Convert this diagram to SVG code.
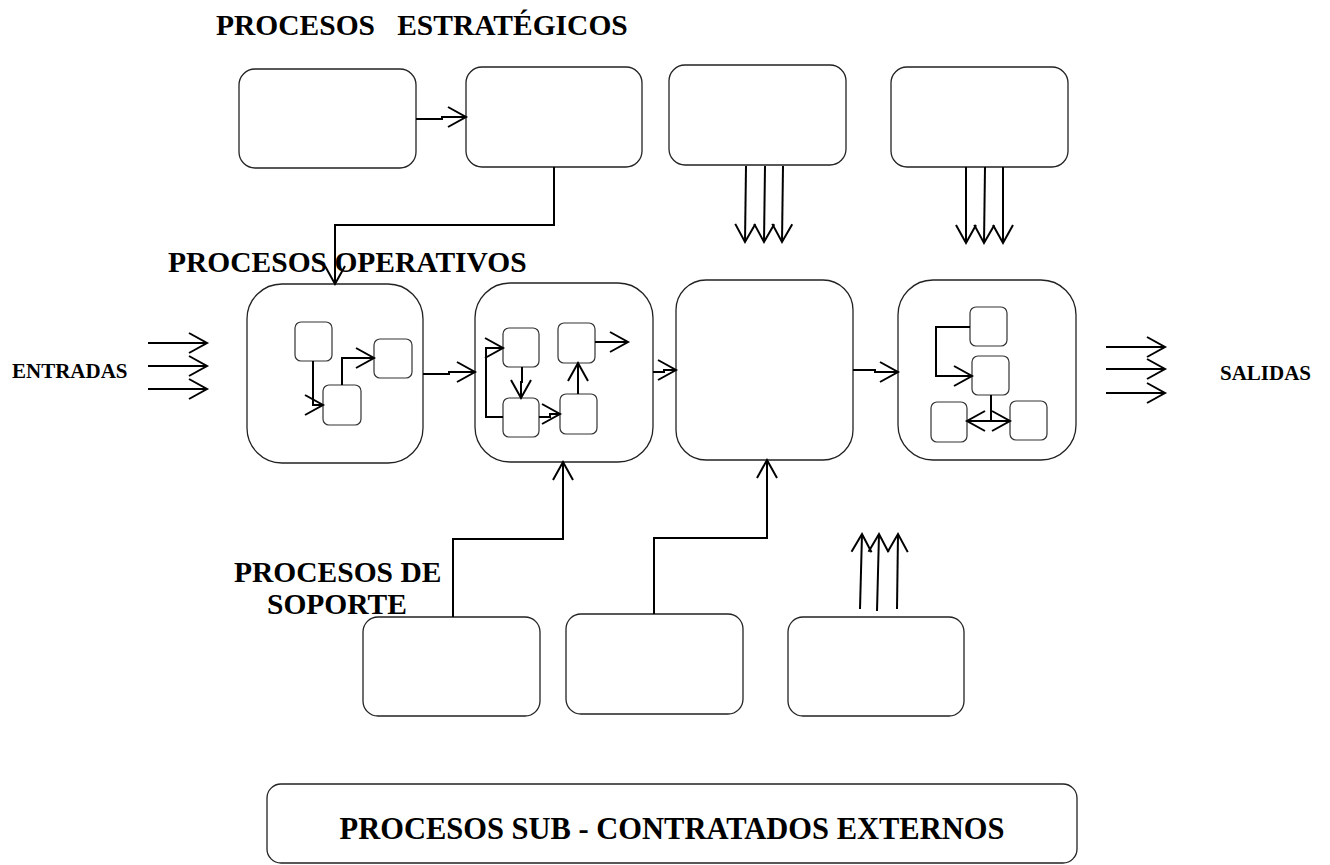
<svg xmlns="http://www.w3.org/2000/svg" width="1330" height="865" viewBox="0 0 1330 865">
<defs>
<style>
.box{fill:#fff;stroke:#222;stroke-width:1.3}
.sm{fill:#fff;stroke:#333;stroke-width:1.2}
.c{fill:none;stroke:#000;stroke-width:2}
.h{font-family:"Liberation Serif","Times New Roman",serif;font-weight:bold;font-size:29.5px;fill:#000}
.l{font-family:"Liberation Serif","Times New Roman",serif;font-weight:bold;font-size:21px;fill:#000}
</style>
<marker id="a" markerUnits="userSpaceOnUse" viewBox="-22 -12 26 24" markerWidth="26" markerHeight="24" refX="0" refY="0" orient="auto-start-reverse">
<path d="M-18,-10 L0,0 L-18,10" fill="none" stroke="#000" stroke-width="2"/>
</marker>
</defs>
<rect width="1330" height="865" fill="#fff"/>

<text class="h" x="216" y="35" xml:space="preserve">PROCESOS   ESTRATÉGICOS</text>
<text class="h" x="168" y="272">PROCESOS OPERATIVOS</text>
<text class="h" x="234" y="582">PROCESOS DE</text>
<text class="h" x="267" y="614">SOPORTE</text>
<text class="l" x="12" y="378">ENTRADAS</text>
<text class="l" x="1220" y="380">SALIDAS</text>

<g id="s1"><rect class="box" x="239" y="69" width="177" height="99" rx="16"/></g>
<g id="s2"><rect class="box" x="466" y="67" width="176" height="100" rx="16"/></g>
<g id="s3"><rect class="box" x="669" y="65" width="177" height="100" rx="16"/></g>
<g id="s4"><rect class="box" x="891" y="67" width="177" height="100" rx="16"/></g>

<g id="o1">
<rect class="box" x="247" y="284" width="176" height="179" rx="35"/>
<rect class="sm" x="295" y="322" width="37" height="39" rx="6"/>
<rect class="sm" x="374" y="339" width="38" height="39" rx="6"/>
<rect class="sm" x="323" y="385" width="38" height="40" rx="6"/>
<path class="c" d="M313,361 V405 H323" marker-end="url(#a)"/>
<path class="c" d="M342,385 V358 H374" marker-end="url(#a)"/>
</g>

<g id="o2">
<rect class="box" x="475" y="283" width="178" height="179" rx="35"/>
<rect class="sm" x="503" y="328" width="36" height="39" rx="6"/>
<rect class="sm" x="558" y="323" width="37" height="40" rx="6"/>
<rect class="sm" x="503" y="398" width="36" height="39" rx="6"/>
<rect class="sm" x="560" y="394" width="37" height="40" rx="6"/>
<path class="c" d="M503,417 H486 V348 H503" marker-end="url(#a)"/>
<path class="c" d="M522,367 V382 H521 V398" marker-end="url(#a)"/>
<path class="c" d="M539,417 H550 V414 H560" marker-end="url(#a)"/>
<path class="c" d="M578,394 V363" marker-end="url(#a)"/>
<path class="c" d="M595,342 H628" marker-end="url(#a)"/>
</g>

<g id="o3"><rect class="box" x="676" y="280" width="177" height="180" rx="30"/></g>

<g id="o4">
<rect class="box" x="898" y="280" width="178" height="180" rx="35"/>
<rect class="sm" x="970" y="307" width="37" height="39" rx="6"/>
<rect class="sm" x="972" y="356" width="37" height="39" rx="6"/>
<rect class="sm" x="931" y="402" width="36" height="40" rx="6"/>
<rect class="sm" x="1010" y="401" width="37" height="39" rx="6"/>
<path class="c" d="M970,327 H936 V376 H972" marker-end="url(#a)"/>
<path class="c" d="M991,395 V421"/>
<path class="c" d="M967,421 H1010" marker-start="url(#a)" marker-end="url(#a)"/>
</g>

<g id="sp1"><rect class="box" x="363" y="617" width="177" height="99" rx="15"/></g>
<g id="sp2"><rect class="box" x="566" y="614" width="177" height="100" rx="15"/></g>
<g id="sp3"><rect class="box" x="788" y="617" width="176" height="99" rx="15"/></g>

<g id="ext">
<rect class="box" x="267" y="784" width="810" height="79" rx="14"/>
<text class="h" x="672" y="839" text-anchor="middle" style="font-size:30.5px">PROCESOS SUB - CONTRATADOS EXTERNOS</text>
</g>

<g id="connectors">
<path class="c" d="M416,119 H442 V117 H466" marker-end="url(#a)"/>
<path class="c" d="M554,167 V225 H335 V284" marker-end="url(#a)"/>
<path class="c" d="M746,166 L745,242" marker-end="url(#a)"/>
<path class="c" d="M765,166 L764,242" marker-end="url(#a)"/>
<path class="c" d="M783,166 L782,242" marker-end="url(#a)"/>
<path class="c" d="M966,167 L966,243" marker-end="url(#a)"/>
<path class="c" d="M985,167 L984,243" marker-end="url(#a)"/>
<path class="c" d="M1003,167 L1003,243" marker-end="url(#a)"/>
<path class="c" d="M423,374 H449 V372 H475" marker-end="url(#a)"/>
<path class="c" d="M653,372 H664 V370 H676" marker-end="url(#a)"/>
<path class="c" d="M853,370 H875 V372 H898" marker-end="url(#a)"/>
<path class="c" d="M453,617 V539 H563 V462" marker-end="url(#a)"/>
<path class="c" d="M654,614 V538 H767 V460" marker-end="url(#a)"/>
<path class="c" d="M860,609 L862,534" marker-end="url(#a)"/>
<path class="c" d="M877,611 L879,534" marker-end="url(#a)"/>
<path class="c" d="M897,609 L898,534" marker-end="url(#a)"/>
<path class="c" d="M148,343 H207" marker-end="url(#a)"/>
<path class="c" d="M148,366 H207" marker-end="url(#a)"/>
<path class="c" d="M148,389 H207" marker-end="url(#a)"/>
<path class="c" d="M1106,347 H1165" marker-end="url(#a)"/>
<path class="c" d="M1106,369 H1165" marker-end="url(#a)"/>
<path class="c" d="M1106,393 H1165" marker-end="url(#a)"/>
</g>
</svg>
